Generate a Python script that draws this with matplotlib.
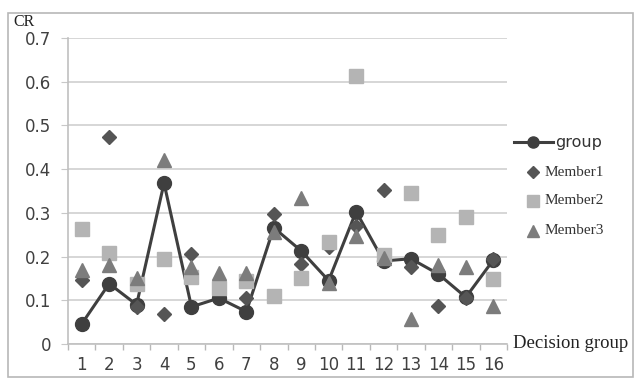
import matplotlib
matplotlib.use("Agg")
import matplotlib.pyplot as plt
from matplotlib.lines import Line2D
from matplotlib.patches import Rectangle

groups = list(range(1, 17))
group = [0.046, 0.138, 0.090, 0.368, 0.085, 0.105, 0.074, 0.266,
         0.213, 0.145, 0.303, 0.190, 0.195, 0.160, 0.107, 0.192]
member1 = [0.146, 0.474, 0.084, 0.068, 0.207, 0.140, 0.105, 0.297,
           0.183, 0.222, 0.269, 0.352, 0.177, 0.087, 0.105, 0.195]
member2 = [0.263, 0.208, 0.137, 0.195, 0.153, 0.128, 0.143, 0.109,
           0.151, 0.233, 0.613, 0.204, 0.345, 0.250, 0.290, 0.149]
member3 = [0.170, 0.181, 0.151, 0.421, 0.177, 0.163, 0.163, 0.256,
           0.333, 0.139, 0.246, 0.196, 0.057, 0.181, 0.177, 0.086]
yticks = [0, 0.1, 0.2, 0.3, 0.4, 0.5, 0.6, 0.7]
ytick_labels = ["0", "0.1", "0.2", "0.3", "0.4", "0.5", "0.6", "0.7"]

W, H = 640, 387
fig = plt.figure(figsize=(6.4, 3.87), dpi=100)
fig.patch.set_facecolor("white")
ax = fig.add_axes([68 / W, 1 - 344 / H, (507 - 68) / W, (344 - 38) / H])

# outer frame
fig.add_artist(Rectangle((8 / W, 1 - 377 / H), (633 - 8) / W, (377 - 13) / H,
                         transform=fig.transFigure, fill=False,
                         edgecolor="#b8b8b8", linewidth=1.2))

c_group = "#3f3f3f"
c_m1 = "#555555"
c_m2 = "#b4b4b4"
c_m3 = "#7c7c7c"

ax.plot(groups, group, color=c_group, linewidth=2.2, marker="o",
        markersize=10, zorder=3)
ax.plot(groups, member1, linestyle="none", marker="D", color=c_m1,
        markersize=7.5, zorder=4)
ax.plot(groups, member2, linestyle="none", marker="s", color=c_m2,
        markersize=9.5, zorder=5)
ax.plot(groups, member3, linestyle="none", marker="^", color=c_m3,
        markersize=10, zorder=6)

ax.set_xlim(0.5, 16.5)
ax.set_ylim(0, 0.7)
ax.set_yticks(yticks)
ax.set_yticklabels(ytick_labels)
ax.set_xticks(groups)
ax.set_xticklabels([str(g) for g in groups])
ax.set_xticks([g + 0.5 for g in range(0, 17)], minor=True)
ax.tick_params(axis="x", which="major", length=0, pad=9, labelsize=12,
               labelcolor="#404040")
ax.tick_params(axis="x", which="minor", length=4, color="#b8b8b8", width=1)
ax.tick_params(axis="y", length=5, color="#c8c8c8", pad=7, labelsize=12,
               labelcolor="#404040")
ax.grid(axis="y", color="#cfcfcf", linewidth=1.2)
ax.set_axisbelow(True)
for s in ["top", "right"]:
    ax.spines[s].set_visible(False)
ax.spines["left"].set_color("#c0c0c0")
ax.spines["bottom"].set_color("#c0c0c0")
ax.spines["left"].set_linewidth(1.2)
ax.spines["bottom"].set_linewidth(1.2)

fig.text(13 / W, 1 - 22 / H, "CR", family="Liberation Serif", fontsize=11.5,
         va="center", ha="left", color="#222222")
fig.text(513 / W, 1 - 344 / H, "Decision group", family="Liberation Serif",
         fontsize=13.5, va="center", ha="left", color="#222222")

# legend
def fx(px):
    return px / W

def fy(py):
    return 1 - py / H

fig.add_artist(Line2D([fx(514), fx(553)], [fy(142), fy(142)],
                      transform=fig.transFigure, color=c_group, linewidth=2.2))
fig.add_artist(Line2D([fx(533)], [fy(142)], transform=fig.transFigure,
                      marker="o", markersize=8, color=c_group))
fig.text(fx(555), fy(142), "group", family="DejaVu Sans", fontsize=11.5,
         va="center", ha="left", color="#333333")
legend_rows = [("Member1", "D", c_m1, 6, 172),
               ("Member2", "s", c_m2, 8, 201),
               ("Member3", "^", c_m3, 8, 231)]
for label, mk, col, ms, py in legend_rows:
    fig.add_artist(Line2D([fx(533)], [fy(py)], transform=fig.transFigure,
                          marker=mk, markersize=ms, color=col,
                          linestyle="none"))
    fig.text(fx(545), fy(py), label, family="Liberation Serif", fontsize=11,
             va="center", ha="left", color="#333333")

fig.savefig("out.png", dpi=100)
